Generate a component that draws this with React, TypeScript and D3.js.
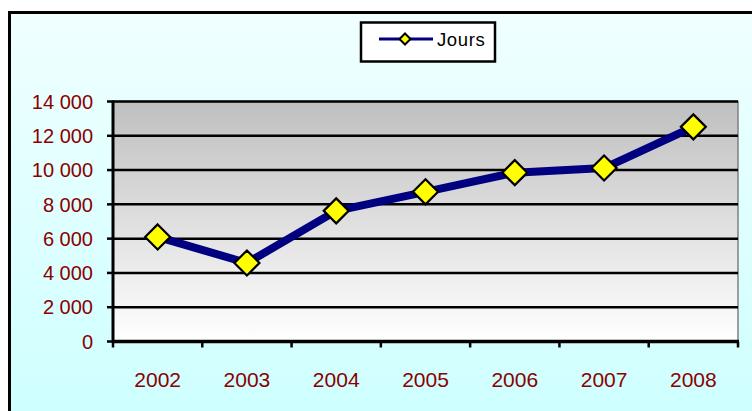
import React from 'react';
import * as d3 from 'd3';

const years = ['2002', '2003', '2004', '2005', '2006', '2007', '2008'];
const jours = [6100, 4580, 7620, 8730, 9850, 10120, 12520];
const yTicks = [0, 2000, 4000, 6000, 8000, 10000, 12000, 14000];

const W = 752;
const H = 411;
const plot = { left: 113, right: 738, top: 101.5, bottom: 341.5 };
const red = '#8b0000';
const font = 'Liberation Sans, Arial, sans-serif';

const fmt = (v: number) => d3.format(',')(v).replace(/,/g, ' ');

const Diamond = ({ x, y, r }: { x: number; y: number; r: number }) => (
  <path
    d={`M${x},${y - r}L${x + r},${y}L${x},${y + r}L${x - r},${y}Z`}
    fill="#ffff00"
    stroke="#000"
    strokeWidth={2.2}
    strokeLinejoin="miter"
  />
);

export default function App() {
  const x = d3.scaleBand().domain(years).range([plot.left, plot.right]);
  const y = d3.scaleLinear().domain([0, 14000]).range([plot.bottom, plot.top]);

  const line = d3
    .line<number>()
    .x((_, i) => x(years[i])! + x.bandwidth() / 2)
    .y(d => y(d));

  const bounds = d3.range(years.length + 1).map(i => plot.left + i * x.step());

  return (
    <svg
      width={W}
      height={H}
      style={{ position: 'absolute', left: 0, top: 0, display: 'block' }}
    >
      <defs>
        <linearGradient id="bg" x1="0" y1="0" x2="0" y2="1">
          <stop offset="0" stopColor="#f0ffff" />
          <stop offset="1" stopColor="#ccffff" />
        </linearGradient>
        <linearGradient id="plotbg" x1="0" y1="0" x2="0" y2="1">
          <stop offset="0" stopColor="#bfbfbf" />
          <stop offset="1" stopColor="#ffffff" />
        </linearGradient>
      </defs>
      <rect x={0} y={0} width={W} height={H} fill="#fff" />
      <rect x={9.5} y={12.5} width={W + 20} height={H + 20} fill="url(#bg)" stroke="#000" strokeWidth={3} />

      {/* plot area */}
      <rect
        x={plot.left}
        y={plot.top}
        width={plot.right - plot.left}
        height={plot.bottom - plot.top}
        fill="url(#plotbg)"
        stroke="#808080"
        strokeWidth={1.5}
      />

      {/* gridlines */}
      {yTicks.slice(1).map(t => (
        <line key={t} x1={plot.left} x2={plot.right} y1={y(t)} y2={y(t)} stroke="#000" strokeWidth={2.5} />
      ))}

      {/* y axis */}
      <line x1={plot.left} x2={plot.left} y1={plot.top - 1} y2={plot.bottom + 1} stroke="#000" strokeWidth={3} />
      {yTicks.map(t => (
        <g key={t}>
          <line x1={plot.left - 6} x2={plot.left} y1={y(t)} y2={y(t)} stroke="#000" strokeWidth={2.5} />
          <text
            x={93}
            y={y(t)}
            dy="0.36em"
            textAnchor="end"
            fontFamily={font}
            fontSize={20}
            fill={red}
          >
            {fmt(t)}
          </text>
        </g>
      ))}

      {/* x axis */}
      <line x1={plot.left - 1} x2={plot.right + 1} y1={plot.bottom} y2={plot.bottom} stroke="#000" strokeWidth={3.5} />
      {bounds.map((b, i) => (
        <line key={i} x1={b} x2={b} y1={plot.bottom} y2={plot.bottom + 6} stroke="#000" strokeWidth={2.5} />
      ))}
      {years.map(yr => (
        <text
          key={yr}
          x={x(yr)! + x.bandwidth() / 2}
          y={386.5}
          textAnchor="middle"
          fontFamily={font}
          fontSize={21}
          fill={red}
        >
          {yr}
        </text>
      ))}

      {/* series */}
      <path d={line(jours)!} fill="none" stroke="#000080" strokeWidth={8} strokeLinejoin="round" />
      {jours.map((v, i) => (
        <Diamond key={i} x={x(years[i])! + x.bandwidth() / 2} y={y(v)} r={12.5} />
      ))}

      {/* legend */}
      <rect x={361} y={22.5} width={134} height={39} fill="#fff" stroke="#000" strokeWidth={2.5} />
      <line x1={379} x2={433} y1={39} y2={39} stroke="#000080" strokeWidth={3} />
      <path d="M405,33.5L410.5,39L405,44.5L399.5,39Z" fill="#ffff00" stroke="#000" strokeWidth={2} />
      <text x={437} y={45.5} fontFamily={font} fontSize={18.5} fill="#000" letterSpacing={0.6}>
        Jours
      </text>
    </svg>
  );
}
